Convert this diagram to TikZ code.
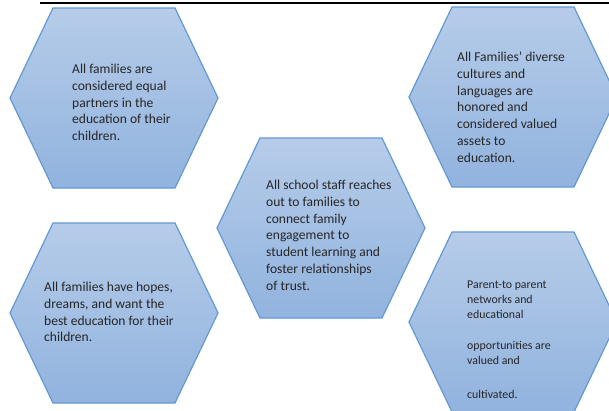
\documentclass[tikz,border=0pt]{standalone}
\usepackage{fontspec}
\setmainfont{Carlito}
\usepackage{tikz}

\definecolor{hexline}{RGB}{98,153,211}
\definecolor{hextop}{RGB}{182,204,233}
\definecolor{hexbot}{RGB}{145,179,222}

\tikzset{
  hexface/.style={draw=hexline,line width=1.2pt,line join=miter,top color=hextop,bottom color=hexbot},
  hextext/.style={anchor=north west,inner sep=0pt,align=left,text=black!85,font=\fontsize{13.6}{16.8}\selectfont},
  smalltext/.style={hextext,font=\fontsize{11.9}{15}\selectfont}
}

\begin{document}
\begin{tikzpicture}[x=1bp,y=-1bp]
\useasboundingbox (0,0) rectangle (609,410);

% heading rule, cut off at the top
\draw[line width=2pt] (40,3) -- (609,3);

% hexagons: centre x, centre y
\foreach \cx/\cy in {114/98, 513/97, 321/228, 114/313, 513/322}
  \draw[hexface] (\cx-104,\cy) -- (\cx-61,\cy-90) -- (\cx+61,\cy-90)
     -- (\cx+104,\cy) -- (\cx+61,\cy+90) -- (\cx-61,\cy+90) -- cycle;

\node[hextext] (partners) at (72,64) {All families are\\considered equal\\partners in the\\education of their\\children.};
\node[hextext] (cultures) at (457,52) {All Families’ diverse\\cultures and\\languages are\\honored and\\considered valued\\assets to\\education.};
\node[hextext] (staff) at (266,180) {All school staff reaches\\out to families to\\connect family\\engagement to\\student learning and\\foster relationships\\of trust.};
\node[hextext] (hopes) at (44,282) {All families have hopes,\\dreams, and want the\\best education for their\\children.};
\node[smalltext] (networks) at (467,281) {Parent-to parent\\networks and\\educational\\[15.7bp]opportunities are\\valued and\\[19bp]cultivated.};

\end{tikzpicture}
\end{document}
